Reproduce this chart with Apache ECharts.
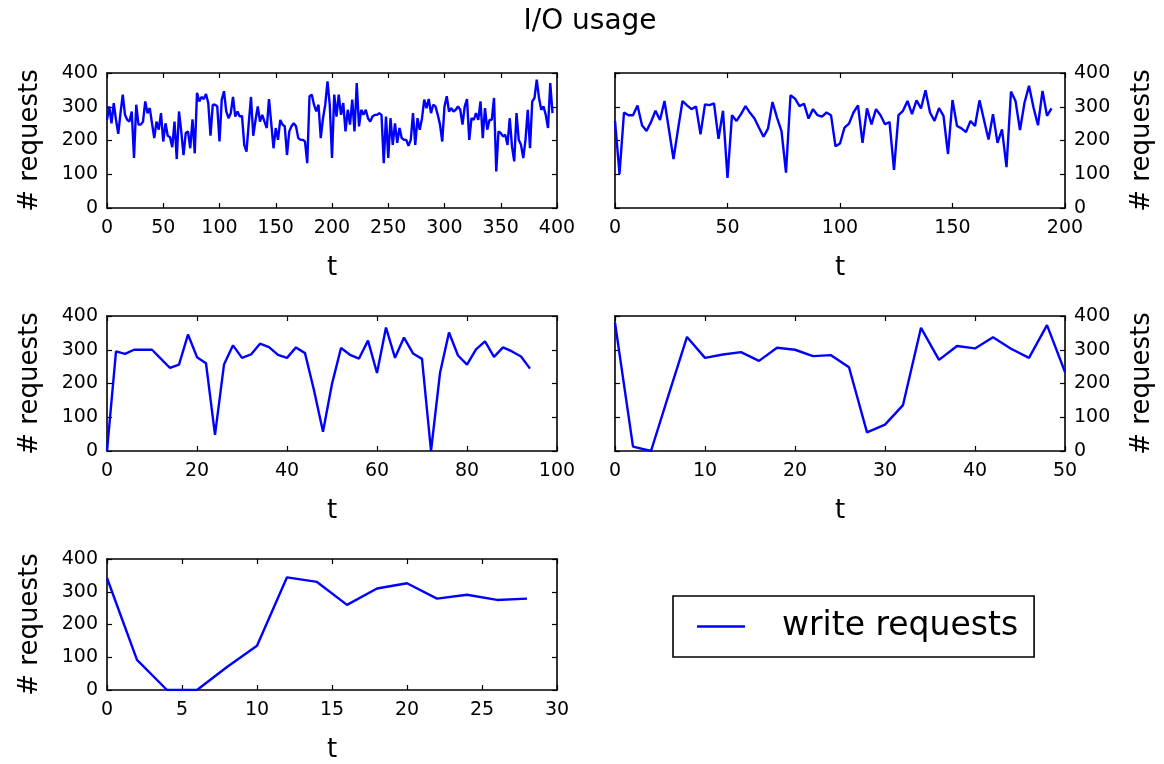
<!DOCTYPE html>
<html>
<head>
<meta charset="utf-8">
<script src="https://cdn.jsdelivr.net/npm/echarts@6/dist/echarts.min.js"></script>
<style>
  html, body { margin: 0; padding: 0; background: #fff; }
  #chart { width: 1164px; height: 764px; }
</style>
</head>
<body>
<div id="chart"></div>
<script>
// ---------- data ----------
const titleText = 'I/O usage';
const seriesName = 'write requests';
const xLabel = 't';
const yLabel = '# requests';

// panel 1: t 0..396
const t1 = [0,2,4,6,8,10,12,14,16,18,20,22,24,26,28,30,32,34,36,38,40,42,44,46,48,50,52,54,56,58,60,62,64,66,68,70,72,74,76,78,80,82,84,86,88,90,92,94,96,98,100,102,104,106,108,110,112,114,116,118,120,122,124,126,128,130,132,134,136,138,140,142,144,146,148,150,152,154,156,158,160,162,164,166,168,170,172,174,176,178,180,182,184,186,188,190,192,194,196,198,200,202,204,206,208,210,212,214,216,218,220,222,224,226,228,230,232,234,236,238,240,242,244,246,248,250,252,254,256,258,260,262,264,266,268,270,272,274,276,278,280,282,284,286,288,290,292,294,296,298,300,302,304,306,308,310,312,314,316,318,320,322,324,326,328,330,332,334,336,338,340,342,344,346,348,350,352,354,356,358,360,362,364,366,368,370,372,374,376,378,380,382,384,386,388,390,392,394,396];
const v1 = [261,301,251,311,261,220,281,336,276,261,256,286,148,306,247,247,256,316,281,296,251,207,256,232,281,197,251,214,210,180,256,145,286,227,157,222,227,177,263,162,341,316,329,323,338,311,214,306,306,301,197,321,346,286,266,281,329,271,286,271,273,187,167,251,329,214,260,301,256,276,256,237,323,251,177,237,202,261,247,242,157,227,242,251,242,207,202,202,197,133,331,336,306,286,306,207,266,306,375,306,148,336,271,336,276,311,227,291,247,321,227,370,242,291,276,291,266,256,271,276,276,281,276,133,271,148,266,187,251,193,237,207,202,202,184,202,281,187,266,232,266,321,296,323,281,306,301,276,247,197,301,331,286,296,286,291,301,291,247,301,323,202,266,261,281,261,316,207,296,232,261,261,326,108,227,222,212,217,187,266,182,138,281,202,187,148,202,291,177,316,326,380,326,291,301,276,237,370,281];

// panel 2: t 0..194
const t2 = [0,2,4,6,8,10,12,14,16,18,20,22,24,26,28,30,32,34,36,38,40,42,44,46,48,50,52,54,56,58,60,62,64,66,68,70,72,74,76,78,80,82,84,86,88,90,92,94,96,98,100,102,104,106,108,110,112,114,116,118,120,122,124,126,128,130,132,134,136,138,140,142,144,146,148,150,152,154,156,158,160,162,164,166,168,170,172,174,176,178,180,182,184,186,188,190,192,194];
const v2 = [258,101,283,275,275,304,245,228,255,288,261,317,231,145,233,317,304,293,301,218,307,305,310,205,288,89,275,258,278,302,282,265,238,211,235,314,268,228,105,334,324,302,309,265,293,275,271,283,275,183,191,238,250,283,304,193,295,248,293,275,248,255,113,275,288,317,278,319,295,349,283,258,296,273,160,320,243,236,225,258,243,319,261,203,278,193,233,121,345,317,231,312,362,298,245,347,273,295];

// panel 3: t 0..94
const t3 = [0,2,4,6,8,10,12,14,16,18,20,22,24,26,28,30,32,34,36,38,40,42,44,46,48,50,52,54,56,58,60,62,64,66,68,70,72,74,76,78,80,82,84,86,88,90,92,94];
const v3 = [0,295,288,300,300,300,273,246,256,345,278,260,48,256,313,276,286,318,308,285,276,307,290,180,57,199,305,285,274,327,231,366,276,336,289,273,0,231,351,283,256,301,325,279,307,295,280,244];

// panel 4: t 0..50
const t4 = [0,2,4,6,8,10,12,14,16,18,20,22,24,26,28,30,32,34,36,38,40,42,44,46,48,50];
const v4 = [380,13,0,170,338,276,286,293,267,306,300,281,284,248,55,78,136,365,270,311,304,337,303,276,373,234];

// panel 5: t 0..28
const t5 = [0,2,4,6,8,10,12,14,16,18,20,22,24,26,28];
const v5 = [342,92,0,0,70,135,344,330,260,310,326,279,291,275,279];

// axis ranges / ticks
const xMax = [400, 200, 100, 50, 30];
const xStep = [50, 50, 20, 10, 5];
const yMax = 400;
const yStep = 100;

// ---------- layout ----------
const FONT = 'DejaVu Sans';
const panels = [
  { t: t1, v: v1, left: 107, top: 73, side: 'left' },
  { t: t2, v: v2, left: 615, top: 73, side: 'right' },
  { t: t3, v: v3, left: 107, top: 316, side: 'left' },
  { t: t4, v: v4, left: 615, top: 316, side: 'right' },
  { t: t5, v: v5, left: 107, top: 559, side: 'left' }
];
const PW = 450, PH = 135;

const axisLine = { show: true, onZero: false, lineStyle: { color: '#000', width: 1.6 } };
const axisTick = { show: true, inside: true, length: 5, lineStyle: { color: '#000', width: 1.2 } };

const grid = [], xAxis = [], yAxis = [], series = [];
panels.forEach((p, i) => {
  grid.push({ left: p.left, top: p.top, width: PW, height: PH, containLabel: false });
  xAxis.push({
    gridIndex: i, type: 'value', position: 'bottom', min: 0, max: xMax[i], interval: xStep[i],
    axisLine, axisTick, splitLine: { show: false },
    axisLabel: { show: true, color: '#000', fontFamily: FONT, fontSize: 19, margin: 11, showMinLabel: true, showMaxLabel: true },
    name: xLabel, nameLocation: 'middle', nameGap: 47,
    nameTextStyle: { color: '#000', fontFamily: FONT, fontSize: 26 }
  });
  xAxis.push({
    gridIndex: i, type: 'value', position: 'top', min: 0, max: xMax[i], interval: xStep[i],
    axisLine, axisTick, splitLine: { show: false }, axisLabel: { show: false }
  });
  const other = p.side === 'left' ? 'right' : 'left';
  yAxis.push({
    gridIndex: i, type: 'value', position: p.side, min: 0, max: yMax, interval: yStep,
    axisLine, axisTick, splitLine: { show: false },
    axisLabel: { show: true, color: '#000', fontFamily: FONT, fontSize: 19, margin: 9 },
    name: yLabel, nameLocation: 'middle', nameGap: 64, nameRotate: 90,
    nameTextStyle: { color: '#000', fontFamily: FONT, fontSize: 26 }
  });
  yAxis.push({
    gridIndex: i, type: 'value', position: other, min: 0, max: yMax, interval: yStep,
    axisLine, axisTick, splitLine: { show: false }, axisLabel: { show: false }
  });
  series.push({
    name: seriesName, type: 'line', xAxisIndex: 2 * i, yAxisIndex: 2 * i,
    data: p.t.map((t, k) => [t, p.v[k]]),
    symbol: 'none', showSymbol: false, animation: false,
    lineStyle: { color: '#0000ff', width: 2.4 }, itemStyle: { color: '#0000ff' }
  });
});

const chart = echarts.init(document.getElementById('chart'), null, { renderer: 'canvas' });
chart.setOption({
  backgroundColor: '#fff',
  animation: false,
  title: {
    text: titleText, left: 585, top: 3, textAlign: 'center',
    textStyle: { color: '#000', fontFamily: FONT, fontSize: 28, fontWeight: 'normal' }
  },
  legend: {
    data: [seriesName], left: 673, top: 596, orient: 'horizontal',
    backgroundColor: '#fff', borderColor: '#000', borderWidth: 1.6,
    padding: [14, 16, 14, 24], itemWidth: 48, itemHeight: 2.6, icon: 'rect',
    itemStyle: { color: '#0000ff' },
    textStyle: { color: '#000', fontFamily: FONT, fontSize: 33, padding: [0, 0, 0, 32] }
  },
  grid, xAxis, yAxis, series
});
</script>
</body>
</html>
